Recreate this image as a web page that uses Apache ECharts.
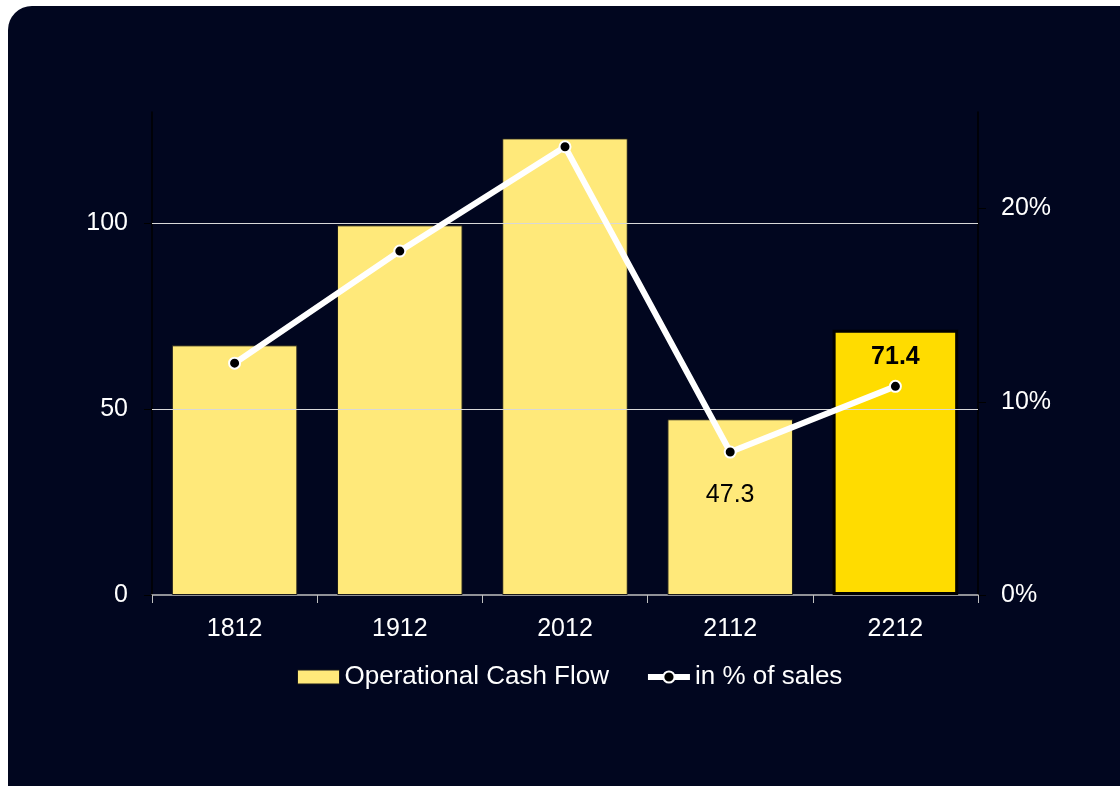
<!DOCTYPE html>
<html>
<head>
<meta charset="utf-8">
<script src="https://cdn.jsdelivr.net/npm/echarts@6/dist/echarts.min.js"></script>
<style>
  html, body { margin: 0; padding: 0; background: #ffffff; width: 1120px; height: 786px; overflow: hidden; }
  #bg { position: absolute; left: 8px; top: 6px; width: 1140px; height: 820px; background: #01061f; border-radius: 24px; }
  #chart { position: absolute; left: 0; top: 0; width: 1120px; height: 786px; }
</style>
</head>
<body>
<div id="bg"></div>
<div id="chart"></div>
<script>
const categories = ['1812', '1912', '2012', '2112', '2212'];
const cashFlow = [67.2, 99.5, 122.9, 47.3, 71.4];
const pctOfSales = [12.0, 17.8, 23.2, 7.4, 10.8];
const gridValues = [50, 100];
const cashFlowName = 'Operational Cash Flow';
const pctName = 'in % of sales';

const chart = echarts.init(document.getElementById('chart'), null, { renderer: 'canvas' });

const font = 'Liberation Sans, Arial, sans-serif';
const barData = cashFlow.map((v, i) => {
  const item = { value: v };
  if (i === 3) {
    item.label = { show: true, position: 'insideTop', distance: 63, color: '#000', fontSize: 25, fontFamily: font, formatter: p => p.value.toFixed(1) };
  }
  if (i === 4) {
    item.itemStyle = { color: '#FFDC00', borderColor: '#000', borderWidth: 3 };
    item.label = { show: true, position: 'insideTop', distance: 15, color: '#000', fontSize: 25, fontWeight: 'bold', fontFamily: font, formatter: p => p.value.toFixed(1) };
  }
  return item;
});

chart.setOption({
  backgroundColor: 'transparent',
  animation: false,
  textStyle: { fontFamily: font },
  grid: { left: 152, right: 142, top: 112, bottom: 191, containLabel: false },
  legend: {
    top: 659,
    left: 292,
    itemWidth: 42,
    itemHeight: 14,
    itemGap: 36,
    textStyle: { color: '#ffffff', fontSize: 26, fontFamily: font },
    data: [
      { name: cashFlowName, icon: 'rect', itemStyle: { color: '#FFE97A', borderColor: '#1a1a1a', borderWidth: 1 } },
      { name: pctName, lineStyle: { color: '#ffffff', width: 6 }, itemStyle: { color: '#000000', borderColor: '#ffffff', borderWidth: 2 } }
    ]
  },
  xAxis: {
    type: 'category',
    data: categories,
    axisLine: { show: true, lineStyle: { color: '#c0c0c0', width: 1.5 } },
    axisTick: { show: true, length: 8, lineStyle: { color: '#c0c0c0' } },
    axisLabel: { color: '#ffffff', fontSize: 25, margin: 22, fontFamily: font }
  },
  yAxis: [
    {
      type: 'value', min: 0, max: 130, interval: 50,
      axisLine: { show: true, lineStyle: { color: '#000000', width: 1.5 } },
      axisTick: { show: true, length: 8, lineStyle: { color: '#000000' } },
      axisLabel: { color: '#ffffff', fontSize: 25, margin: 24, fontFamily: font, showMaxLabel: false },
      splitLine: { show: false }
    },
    {
      type: 'value', min: 0, max: 25, interval: 10,
      axisLine: { show: true, lineStyle: { color: '#000000', width: 1.5 } },
      axisTick: { show: true, length: 8, lineStyle: { color: '#000000' } },
      axisLabel: { color: '#ffffff', fontSize: 25, margin: 23, fontFamily: font, showMaxLabel: false, formatter: '{value}%' },
      splitLine: { show: false }
    }
  ],
  series: [
    {
      name: cashFlowName,
      type: 'bar',
      yAxisIndex: 0,
      barCategoryGap: '24%',
      itemStyle: { color: '#FFE97A', borderColor: '#1a1a1a', borderWidth: 1 },
      data: barData,
      markLine: {
        silent: true,
        symbol: 'none',
        label: { show: false },
        lineStyle: { color: '#d8d8d8', width: 1.2, type: 'solid' },
        data: gridValues.map(v => ({ yAxis: v }))
      },
      z: 2
    },
    {
      name: pctName,
      type: 'line',
      yAxisIndex: 1,
      data: pctOfSales,
      symbol: 'circle',
      symbolSize: 11,
      lineStyle: { color: '#ffffff', width: 6 },
      itemStyle: { color: '#000000', borderColor: '#ffffff', borderWidth: 2 },
      z: 5
    }
  ]
});
</script>
</body>
</html>
